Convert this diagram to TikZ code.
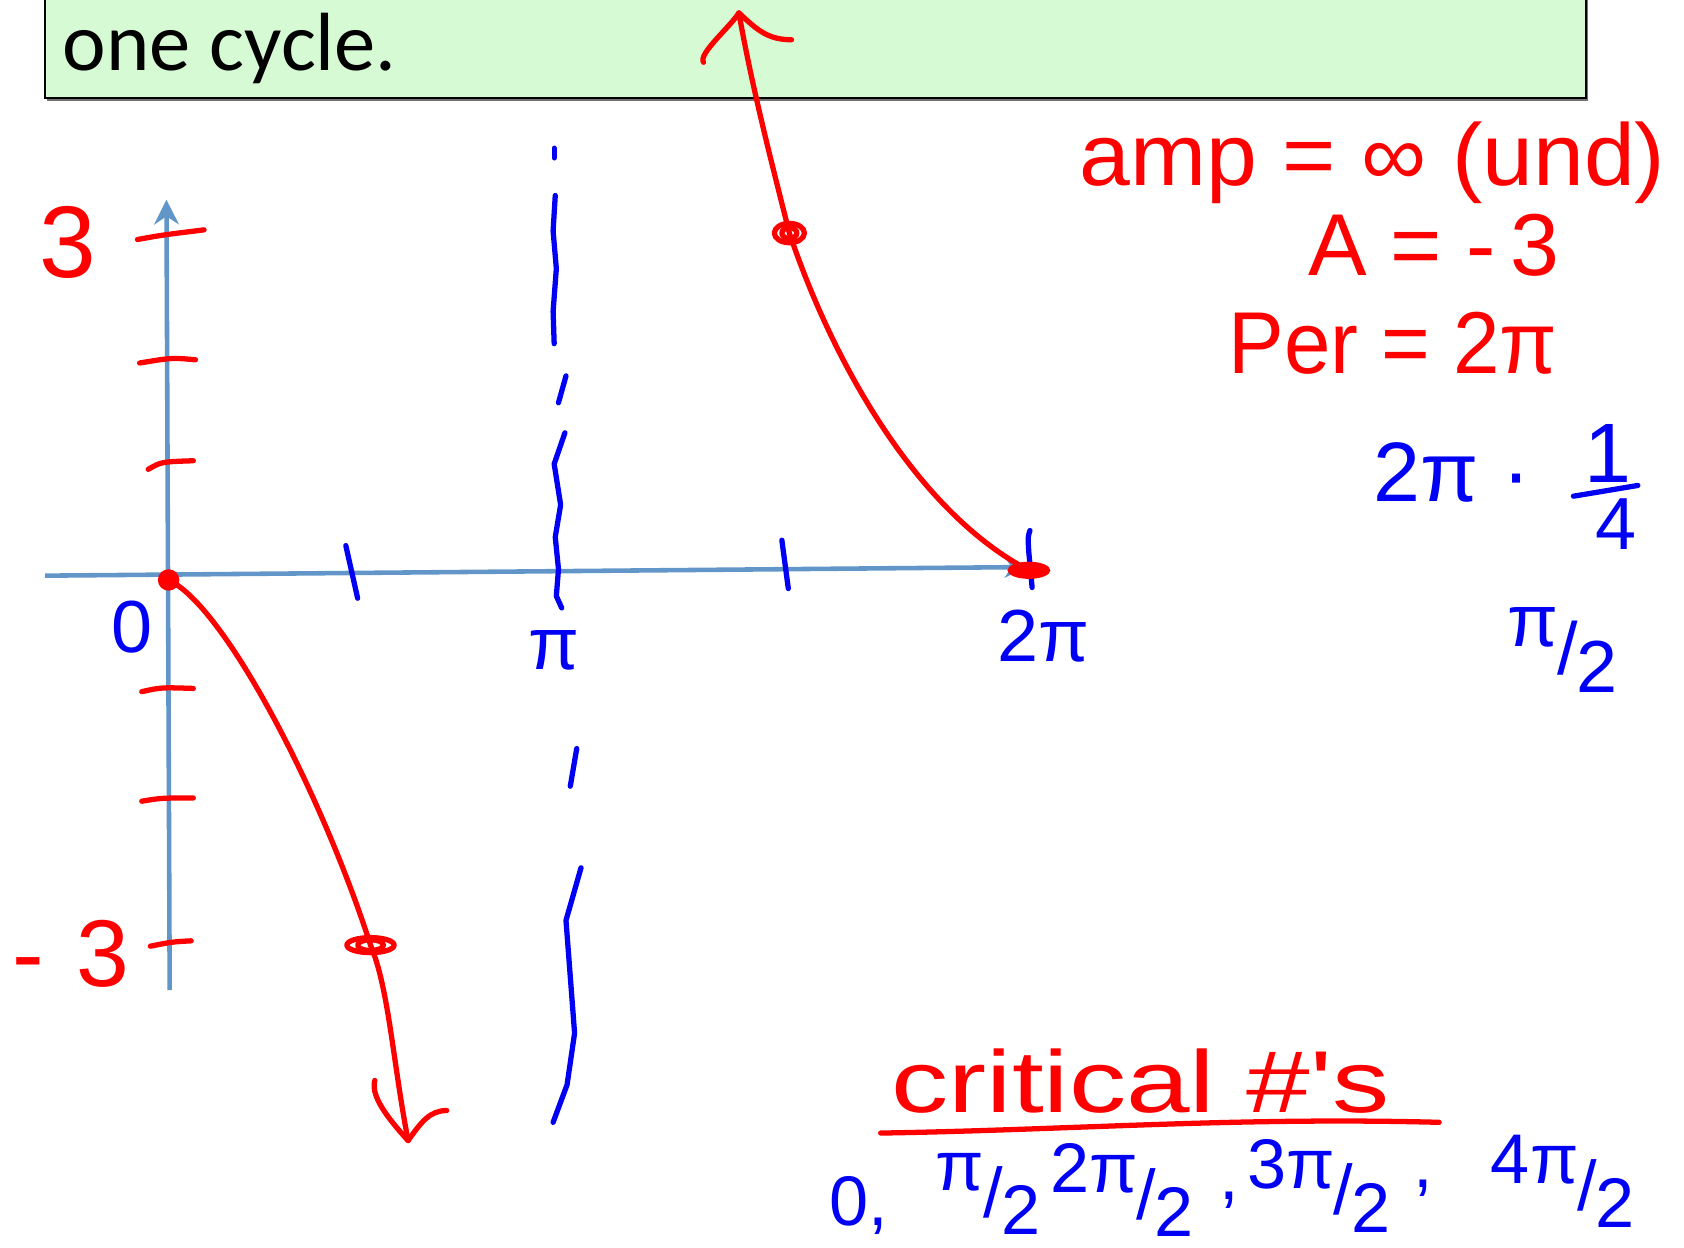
\documentclass[tikz,border=0pt]{standalone}
\usepackage{fontspec}
\setmainfont{Liberation Sans}
\newfontfamily\slidefont{Carlito}
\newfontfamily\handfont{Liberation Sans}
\usetikzlibrary{arrows.meta}
\definecolor{boxgreen}{RGB}{214,250,212}
\definecolor{axisblue}{RGB}{98,150,200}
\definecolor{inkred}{RGB}{255,0,0}
\definecolor{inkblue}{RGB}{0,0,245}
\newcommand{\myfrac}[2]{\raisebox{0.38em}{#1}\kern-0.02em/\kern-0.02em\raisebox{-0.25em}{#2}}
\begin{document}
\begin{tikzpicture}[x=0.01074cm,y=-0.01074cm,
  redink/.style={draw=inkred, line width=1.5pt, line cap=round, line join=round},
  blueink/.style={draw=inkblue, line width=1.5pt, line cap=round, line join=round},
  axisline/.style={draw=axisblue, line width=1.3pt},
  redtext/.style={text=inkred, inner sep=0pt, font=\handfont\fontsize{25}{30}\selectfont},
  bluetext/.style={text=inkblue, inner sep=0pt, font=\handfont\fontsize{21}{25}\selectfont},
  dotfill/.style={fill=inkred}]
\useasboundingbox (0,0) rectangle (1568,1162);
% title box
\fill[black!55] (44,-10) rectangle (1479,94);
\draw[fill=boxgreen, line width=0.6pt] (42,-12) rectangle (1477,91);
\node[anchor=base west, inner sep=0pt, font=\slidefont\fontsize{23.5}{28}\selectfont] (title) at (58,66) {one cycle.};
% axes
\coordinate (xl) at (42,536);
\coordinate (xr) at (955,528);
\coordinate (yb) at (158,922);
\coordinate (yt) at (155,186);
\draw[axisline, -{Stealth[length=6pt,width=6pt]}] (xl) -- (xr);
\draw[axisline, -{Stealth[length=7pt,width=7pt]}] (yb) -- (yt);
% red ticks on y axis
\draw[redink] (128,223) .. controls (150,219) .. (190,214);
\draw[redink] (130,338) .. controls (160,333) .. (182,335);
\draw[redink] (138,437) .. controls (150,430) .. (180,429);
\draw[redink] (132,644) .. controls (150,640) .. (180,641);
\draw[redink] (132,746) .. controls (150,743) .. (180,743);
\draw[redink] (140,881) .. controls (160,877) .. (178,876);
% blue ticks on x axis
\draw[blueink] (322,508) -- (333,557);
\draw[blueink] (728,503) -- (734,548);
\draw[blueink] (959,494) .. controls (957,500) .. (958,515) -- (961,547);
% asymptote
\draw[blueink] (516,138) -- (516,147);
\draw[blueink] (517,182) -- (515,215) -- (518,250) -- (515,290) -- (516,320);
\draw[blueink] (527,350) -- (520,375);
\draw[blueink] (526,403) -- (516,432) -- (522,470) -- (517,500) -- (520,530) -- (518,555) -- (523,566);
\draw[blueink] (537,697) -- (531,732);
\draw[blueink] (541,808) -- (527,857) -- (535,962) -- (528,1010) -- (515,1045);
% left branch
\coordinate (o) at (157,540);
\coordinate (p1) at (345,880);
\coordinate (tipb) at (380,1062);
\draw[redink] (o) .. controls (210,565) and (300,740) .. (p1) .. controls (362,920) and (366,990) .. (tipb);
\draw[redink] (349,1006) .. controls (345,1020) and (360,1040) .. (tipb) .. controls (392,1045) and (400,1034) .. (416,1034);
\fill[dotfill] (o) circle (10);
\draw[redink] (p1) ellipse (22 and 7);
\draw[redink] (p1) ellipse (12 and 5);
% right branch
\coordinate (p2) at (958,531);
\coordinate (p3) at (735,217);
\coordinate (tipt) at (688,12);
\draw[redink] (p2) .. controls (860,480) and (780,350) .. (p3) .. controls (718,150) and (700,80) .. (tipt);
\draw[redink] (655,58) .. controls (650,50) and (680,25) .. (tipt) .. controls (705,28) and (715,37) .. (737,37);
\draw[redink] (p3) ellipse (14 and 9);
\draw[redink] (p3) ellipse (7 and 5);
\fill[dotfill] (p2) ellipse (20 and 8);
% axis labels
\node[redtext, font=\handfont\fontsize{29}{34}\selectfont] (three) at (63,226) {3};
\node[redtext, font=\handfont\fontsize{27}{32}\selectfont] (mthree) at (66,888) {-\,\,3};
\node[bluetext] (zero) at (123,584) {0};
\node[bluetext] (pilab) at (516,606) {π};
\node[bluetext] (twopi) at (972,592) {2π};
% right notes
\node[redtext] (amp) at (1278,152) {\scalebox{1.04}[1]{amp = ∞ (und)}};
\node[redtext] (aval) at (1335,228) {A = -\,3};
\node[redtext] (per) at (1297,320) {\scalebox{0.95}[1]{Per = 2π}};
\node[bluetext, font=\handfont\fontsize{24}{28}\selectfont] (tp) at (1352,440) {2π ·};
\node[bluetext, font=\handfont\fontsize{24}{28}\selectfont] (one) at (1497,422) {1};
\draw[blueink] (1465,462) -- (1525,452);
\node[bluetext] (four) at (1505,488) {4};
\node[bluetext] (pih) at (1455,605) {\myfrac{π}{2}};
% critical numbers
\node[redtext, font=\handfont\fontsize{25}{30}\selectfont] (crit) at (1062,1007) {\scalebox{1.3}[1]{critical \#'s}};
\draw[redink] (820,1055) .. controls (1000,1052) and (1150,1040) .. (1340,1045);
\node[bluetext, font=\handfont\fontsize{20}{24}\selectfont] (c0) at (800,1122) {0,};
\node[bluetext, font=\handfont\fontsize{20}{24}\selectfont] (c1) at (920,1112) {\myfrac{π}{2}};
\node[bluetext, font=\handfont\fontsize{20}{24}\selectfont] (c2) at (1045,1108) {\myfrac{2π}{2}};
\node[bluetext, font=\handfont\fontsize{20}{24}\selectfont] (cm1) at (1145,1118) {,};
\node[bluetext, font=\handfont\fontsize{20}{24}\selectfont] (c3) at (1228,1104) {\myfrac{3π}{2}};
\node[bluetext, font=\handfont\fontsize{20}{24}\selectfont] (cm2) at (1325,1106) {,};
\node[bluetext, font=\handfont\fontsize{20}{24}\selectfont] (c4) at (1455,1100) {\myfrac{4π}{2}};
\end{tikzpicture}
\end{document}
